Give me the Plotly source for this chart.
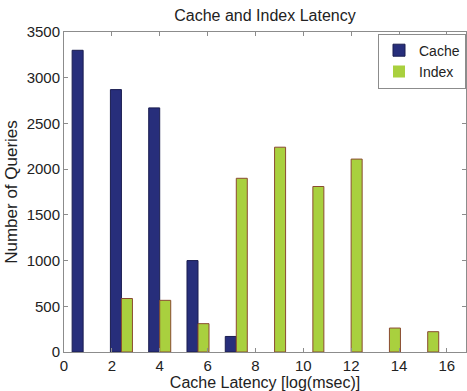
import plotly.graph_objects as go

bin_centers = [0.8, 2.4, 4.0, 5.6, 7.2, 8.8, 10.4, 12.0, 13.6, 15.2]
cache_counts = [3300, 2870, 2670, 1000, 170, 0, 0, 0, 0, 0]
index_counts = [0, 585, 565, 310, 1900, 2240, 1810, 2110, 262, 222]
x_ticks = [0, 2, 4, 6, 8, 10, 12, 14, 16]
y_ticks = [0, 500, 1000, 1500, 2000, 2500, 3000, 3500]

FONT = "Liberation Sans, Arial, sans-serif"

fig = go.Figure()
fig.add_trace(go.Bar(x=bin_centers, y=cache_counts, name="Cache",
                     marker=dict(color="#272e7b",
                                 line=dict(color="#1a1d50", width=[1 if v else 0 for v in cache_counts]))))
fig.add_trace(go.Bar(x=bin_centers, y=index_counts, name="Index",
                     marker=dict(color="#a9d03e",
                                 line=dict(color="#8a4b30", width=[1 if v else 0 for v in index_counts]))))

axis_common = dict(showline=True, linecolor="#8c8c8c", linewidth=1, mirror="ticks",
                   ticks="inside", ticklen=4, tickcolor="#8c8c8c", showgrid=False,
                   zeroline=False, tickfont=dict(size=15, color="#222", family=FONT))

fig.update_layout(
    width=467, height=391,
    margin=dict(l=64, r=1, t=32, b=39),
    paper_bgcolor="white", plot_bgcolor="white",
    barmode="group", bargap=0.425, bargroupgap=0,
    font=dict(family=FONT, color="#222"),
    title=dict(text="Cache and Index Latency", x=(64 + 466) / 2 / 467, xanchor="center",
               y=1 - 15 / 391, yanchor="middle", font=dict(size=16, family=FONT, color="#222")),
    xaxis=dict(range=[0, 16.8], tickvals=x_ticks, ticktext=[str(v) for v in x_ticks],
               title=dict(text="Cache Latency [log(msec)]", font=dict(size=16, family=FONT), standoff=0),
               **axis_common),
    yaxis=dict(range=[0, 3500], tickvals=y_ticks, ticktext=[str(v) for v in y_ticks],
               title=dict(text="Number of Queries", font=dict(size=17, family=FONT), standoff=4),
               **axis_common),
    legend=dict(x=1.0, xanchor="right", y=0.995, yanchor="top", bgcolor="white",
                bordercolor="#8c8c8c", borderwidth=1, font=dict(size=14, family=FONT),
                tracegroupgap=0, itemwidth=30),
    showlegend=True,
)

fig.write_html("out.html", config={"displayModeBar": False},
               post_script="document.body.style.margin='0px';document.body.style.overflow='hidden';")
